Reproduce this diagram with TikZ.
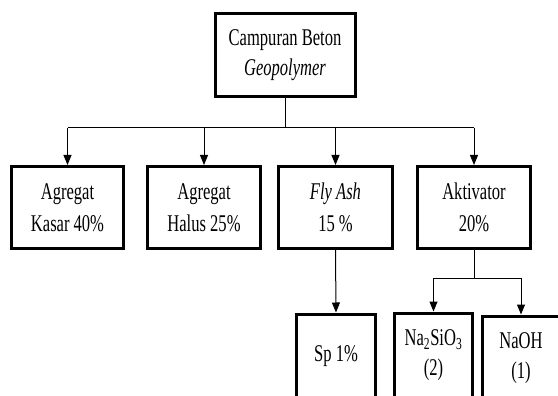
\documentclass[tikz,border=0pt]{standalone}
\usepackage{fontspec}
\setmainfont{Liberation Serif}[FakeStretch=0.69]
\usetikzlibrary{arrows.meta}
\begin{document}
\begin{tikzpicture}[x=1pt,y=-1pt,
  box/.style={draw,line width=3pt,inner sep=0pt,align=center,
    font=\fontsize{24}{30}\selectfont},
  conn/.style={line width=1pt},
  arr/.style={conn,-{Triangle[length=10pt,width=8pt]}}]
\useasboundingbox (0,0) rectangle (558,396);
\clip (0,0) rectangle (558,396);
\fill[white] (0,0) rectangle (558,396);
% top
\node[box,minimum width=140pt,minimum height=83pt] (top) at (285,55)
  {Campuran Beton\\\textit{Geopolymer}};
% row 2
\node[box,minimum width=112pt,minimum height=82pt] (a1) at (67.5,207.5)
  {Agregat\\[2pt]Kasar 40\%};
\node[box,minimum width=113pt,minimum height=82pt] (a2) at (204,207.5)
  {Agregat\\[2pt]Halus 25\%};
\node[box,minimum width=114pt,minimum height=82pt] (a3) at (335.5,207.5)
  {\textit{Fly Ash}\\[2pt]15 \%};
\node[box,minimum width=113pt,minimum height=82pt] (a4) at (474,207.5)
  {Aktivator\\[2pt]20\%};
% row 3
\node[box,minimum width=79pt,minimum height=84pt] (sp) at (336,356)
  {Sp 1\%};
\node[box,minimum width=78pt,minimum height=84pt] (na2) at (433.5,355)
  {Na\textsubscript{2}SiO\textsubscript{3}\\(2)};
\node[box,minimum width=77pt,minimum height=84pt] (naoh) at (521,358)
  {NaOH\\(1)};
% connectors
\coordinate (bus) at (0,128);
\coordinate (bus2) at (0,278);
\draw[conn] (top.south) -- (top.south |- bus);
\draw[conn] (a1.north |- bus) -- (a4.north |- bus);
\foreach \n in {a1,a2,a3,a4}
  \draw[arr] (\n.north |- bus) -- (\n.north);
\draw[arr] (a3.south) -- (sp.north);
\draw[conn] (a4.south) -- (a4.south |- bus2);
\draw[conn] (na2.north |- bus2) -- (naoh.north |- bus2);
\draw[arr] (na2.north |- bus2) -- (na2.north);
\draw[arr] (naoh.north |- bus2) -- (naoh.north);
\end{tikzpicture}
\end{document}
